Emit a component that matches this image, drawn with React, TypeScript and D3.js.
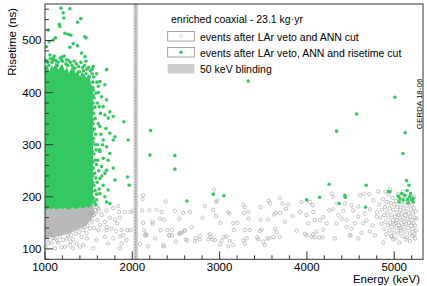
import React, { useRef, useEffect } from 'react';
import * as d3 from 'd3';

// axis ticks
const xMajor = [1000, 2000, 3000, 4000, 5000];
const yMajor = [100, 200, 300, 400, 500];

// dense core of the low energy cluster (energy keV, risetime ns)
const greenCoreE = [1000, 1025, 1050, 1075, 1100, 1125, 1150, 1175, 1200, 1225, 1250, 1275, 1300, 1325, 1350, 1375, 1400, 1425, 1450, 1475, 1500, 1525, 1540, 1550];
const greenCoreTop = [445, 455, 440, 452, 448, 458, 444, 450, 455, 442, 449, 437, 446, 452, 436, 444, 430, 441, 434, 428, 436, 420, 410, 400];
const greenCoreBottom = [177, 175, 178, 176, 179, 175, 177, 178, 176, 179, 177, 175, 178, 180, 176, 178, 181, 177, 179, 182, 178, 184, 188, 192];

const grayCoreE = [1000, 1100, 1200, 1300, 1400, 1500, 1560];
const grayCoreLow = [122, 123, 126, 131, 138, 150, 166];
const grayCoreHigh = [182, 182, 182, 182, 182, 184, 186];

// green: events after LAr veto, ANN and risetime cut
const greenFringe = [
  [1010, 462], [1030, 458], [1060, 465], [1080, 458], [1105, 470], [1125, 462], [1150, 458], [1175, 466],
  [1200, 460], [1220, 470], [1240, 455], [1265, 462], [1290, 458], [1310, 452], [1335, 460], [1360, 455],
  [1385, 450], [1410, 458], [1430, 448], [1455, 452], [1480, 445], [1500, 448], [1520, 442], [1540, 436],
  [1548, 420], [1555, 405], [1562, 390], [1550, 380], [1570, 372], [1558, 360], [1575, 350], [1552, 340],
  [1565, 330], [1580, 320], [1556, 312], [1572, 300], [1585, 290], [1560, 282], [1575, 270], [1590, 262],
  [1555, 255], [1568, 245], [1582, 236], [1598, 228], [1560, 222], [1575, 212], [1590, 205], [1552, 198],
  [1566, 190], [1600, 300], [1610, 340], [1605, 270], [1615, 250], [1620, 215], [1598, 380], [1612, 400],
  [1635, 360], [1640, 320], [1625, 290], [1650, 240], [1660, 300], [1595, 420], [1545, 195], [1530, 188],
  [1515, 185], [1500, 186], [1580, 185], [1560, 430], [1540, 445], [1545, 410], [1548, 395], [1542, 368],
  [1546, 348], [1543, 325], [1549, 305], [1541, 288], [1547, 266], [1544, 240], [1549, 228], [1542, 210],
  [1535, 200], [1522, 192], [1490, 190], [1470, 186], [1015, 448], [1045, 452], [1090, 462], [1140, 452],
  [1190, 462], [1260, 452], [1345, 447], [1395, 440], [1440, 442], [1470, 436], [1510, 430],
];

const greenOutliers = [
  [1182, 562], [1285, 561], [1209, 553], [1216, 543], [1411, 542], [1163, 531], [1171, 527], [1373, 535],
  [1037, 520], [1228, 514], [1266, 512], [1297, 510], [1457, 507], [1469, 505], [1121, 505], [1094, 501],
  [1048, 498], [1018, 488], [1323, 494], [1285, 487], [1373, 490], [1419, 476], [1056, 472], [1094, 466],
  [1190, 468], [1247, 463], [1457, 469], [1469, 460], [1133, 460], [1552, 450], [1705, 444], [1591, 436],
  [1629, 421], [1610, 412], [1686, 415], [1583, 399], [1648, 392], [1705, 386], [1621, 373], [1667, 373],
  [1743, 363], [1781, 354], [1904, 344], [1686, 357], [1724, 351], [1629, 335], [1698, 331], [1743, 322],
  [1801, 315], [1781, 309], [1953, 309], [1667, 309], [1705, 296], [1629, 287], [1743, 283], [1667, 274],
  [1724, 270], [1648, 258], [1705, 251], [1781, 255], [1686, 245], [1629, 235], [1801, 232], [1946, 238],
  [1965, 222], [1667, 222], [1724, 213], [1629, 206], [1686, 200], [1591, 194], [1705, 190], [1743, 187],
];

const greenHigh = [
  [3328, 422], [2210, 327], [2202, 280], [2488, 279], [2488, 253], [2625, 192], [2927, 205], [3049, 202],
  [5008, 391], [4569, 359], [4340, 326], [5126, 323], [5100, 283], [4255, 224], [4679, 222], [3997, 194],
  [4146, 199], [4370, 187], [4435, 203], [4439, 199], [4672, 180], [4936, 210], [4950, 210], [5142, 231],
  [5168, 222], [5149, 212], [5046, 201], [5065, 197], [5085, 206], [5103, 194], [5057, 190], [5180, 200],
  [5199, 194], [5218, 190], [5160, 188], [5122, 203], [5188, 206], [5218, 197], [5154, 195],
];

// gray: events after LAr veto and ANN cut
const grayLow = [
  [1610, 178], [1705, 174], [1782, 178], [1839, 182], [1850, 171], [1915, 171], [1980, 171], [1648, 165],
  [1743, 160], [1801, 156], [1858, 160], [1686, 152], [1629, 146], [1705, 142], [1762, 139], [1827, 149],
  [1610, 136], [1705, 136], [1812, 134], [1877, 136], [1942, 136], [1980, 136], [1896, 126], [1858, 124],
  [1781, 120], [1686, 123], [1591, 117], [1552, 101], [1400, 104], [1285, 107], [1190, 103], [1113, 101],
  [1037, 110], [1877, 110], [1724, 110], [1934, 117], [1858, 101], [1018, 123], [1056, 130], [1113, 120],
  [1152, 112], [1209, 117], [1266, 124], [1323, 118], [1362, 110], [1419, 123], [1476, 130], [1514, 139],
  [1457, 142], [1533, 152], [1560, 165], [1514, 168], [1572, 174], [1005, 104], [1228, 104], [1323, 101],
  [1438, 107], [1075, 112], [1171, 123], [1293, 114], [1030, 118], [1090, 121], [1140, 116], [1250, 120],
  [1300, 126], [1350, 129], [1390, 132], [1440, 136], [1490, 145], [1540, 158], [1580, 168], [1595, 180],
  [1620, 172], [1600, 155], [1560, 140], [1480, 120],
];

const grayMid = [
  [2125, 203], [2117, 195], [2010, 173], [2113, 174], [2194, 174], [2278, 175], [2335, 171], [2381, 191],
  [2316, 158], [2362, 156], [2125, 150], [2232, 152], [2232, 148], [2132, 136], [2155, 129], [2144, 126],
  [2259, 120], [2323, 136], [2400, 136], [2457, 136], [2488, 173], [2583, 169], [2537, 158], [2660, 171],
  [2805, 160], [2832, 182], [2938, 214], [2958, 190], [2973, 193], [2927, 175], [2958, 163], [3011, 150],
  [3099, 171], [3110, 168], [3156, 149], [3202, 150], [3271, 185], [3290, 180], [3278, 169], [3328, 171],
  [3332, 158], [3469, 180], [3561, 192], [3576, 187], [3641, 169], [3622, 166], [3557, 156], [3469, 156],
  [3347, 136], [3290, 136], [3164, 136], [3080, 124], [3049, 123], [2889, 128], [2896, 123], [2874, 118],
  [2919, 118], [2774, 125], [2728, 120], [2717, 115], [2614, 118], [2629, 116], [2499, 114], [2537, 129],
  [2564, 131], [2595, 134], [2679, 142], [2602, 136], [2457, 126], [2423, 126], [2362, 105], [2182, 105],
  [2087, 109], [3481, 137], [3462, 134], [3546, 120], [3569, 120], [3634, 139], [3653, 132], [3519, 107],
  [3271, 116], [3290, 110], [3118, 115], [3023, 116], [3003, 108], [3099, 105], [3443, 118], [3615, 123],
  [2163, 126], [2354, 107], [2423, 126], [2545, 130], [2774, 118], [2946, 117], [3156, 107], [3309, 120],
  [3431, 122], [3500, 114], [3691, 123], [4072, 128], [4320, 120], [4492, 126], [4779, 126], [4874, 112],
  [4970, 124],
];

const grayHigh = [
  [3691, 197], [3722, 187], [3786, 185], [3760, 177], [3691, 169], [3836, 163], [3748, 152], [3882, 135],
  [3920, 171], [3939, 190], [4035, 190], [4065, 184], [3997, 165], [4073, 171], [4016, 149], [4092, 155],
  [3978, 129], [3997, 126], [4054, 123], [4092, 122], [4142, 122], [4180, 122], [4111, 133], [4188, 137],
  [4226, 149], [4283, 206], [4302, 200], [4340, 187], [4302, 176], [4359, 165], [4417, 173], [4397, 158],
  [4455, 155], [4340, 149], [4455, 142], [4512, 139], [4588, 120], [4500, 126], [4626, 131], [4436, 187],
  [4512, 184], [4531, 174], [4588, 181], [4607, 203], [4653, 206], [4714, 205], [4760, 193], [4722, 176],
  [4664, 168], [4588, 162], [4684, 155], [4752, 145], [4798, 162], [4817, 210], [4722, 133], [4645, 149],
  [4550, 149], [4256, 174], [4188, 161], [4149, 155],
];

const grayAlpha = [
  [4805, 170], [4830, 185], [4840, 160], [4855, 148], [4860, 175], [4870, 195], [4880, 138], [4885, 165],
  [4895, 180], [4900, 152], [4910, 128], [4915, 190], [4920, 170], [4925, 145], [4935, 160], [4940, 205],
  [4945, 135], [4950, 178], [4955, 150], [4960, 188], [4965, 125], [4970, 165], [4975, 142], [4980, 198],
  [4985, 155], [4990, 175], [4995, 132], [5000, 185], [5005, 148], [5010, 162], [5015, 120], [5020, 192],
  [5025, 140], [5030, 170], [5035, 155], [5040, 180], [5045, 130], [5050, 165], [5055, 145], [5060, 195],
  [5065, 158], [5070, 175], [5075, 135], [5080, 150], [5085, 185], [5090, 168], [5095, 125], [5100, 160],
  [5105, 142], [5110, 178], [5115, 152], [5120, 190], [5125, 133], [5130, 165], [5135, 148], [5140, 172],
  [5145, 122], [5150, 158], [5155, 183], [5160, 140], [5165, 168], [5170, 150], [5175, 195], [5180, 130],
  [5185, 162], [5190, 176], [5195, 145], [5200, 155], [5205, 185], [5210, 138], [5215, 168], [5220, 150],
  [5225, 178], [5230, 128], [5235, 160], [5240, 145], [5245, 172], [5250, 135], [5255, 158], [5045, 205],
  [5100, 210], [5150, 200], [5200, 198], [4990, 118], [5130, 118], [5180, 115], [5060, 112], [5240, 120],
  [4900, 210], [4950, 215], [5230, 200], [5110, 202], [5020, 150], [5070, 140], [5160, 190], [5210, 125],
];

const legendTitle = 'enriched coaxial - 23.1 kg\u00b7yr';
const legendLabels = [
  'events after LAr veto and ANN cut',
  'events after LAr veto, ANN and risetime cut',
  '50 keV blinding',
];
const blinding = [2014, 2064];

const GREEN = '#35c860';
const GRAY = '#9c9c9c';
const FONT = 'Liberation Sans, Arial, Helvetica, sans-serif';

const App = () => {
  const svgRef = useRef(null);

  useEffect(() => {
    const W = 427, H = 286;
    const left = 45, right = 423, top = 4, bottom = 259.3;

    const svg = d3.select(svgRef.current).attr('width', W).attr('height', H);
    svg.selectAll('*').remove();

    const x = d3.scaleLinear().domain([1000, 5330]).range([left, right]);
    const y = d3.scaleLinear().domain([80, 570]).range([bottom, top]);

    svg.append('rect').attr('width', W).attr('height', H).attr('fill', '#fff');

    const plot = svg.append('g');

    // gray core + circles
    const grayCore = grayCoreE.map((e, i) => ({ e, lo: grayCoreLow[i], hi: grayCoreHigh[i] }));
    plot.append('path')
      .datum(grayCore)
      .attr('fill', '#bababa')
      .attr('d', d3.area().x(d => x(d.e)).y0(d => y(d.lo)).y1(d => y(d.hi)).curve(d3.curveMonotoneX));

    const grayAll = [...grayLow, ...grayMid, ...grayHigh, ...grayAlpha];
    plot.append('g').selectAll('circle')
      .data(grayAll)
      .join('circle')
      .attr('cx', d => x(d[0]))
      .attr('cy', d => y(d[1]))
      .attr('r', 1.7)
      .attr('fill', 'none')
      .attr('stroke', GRAY)
      .attr('stroke-width', 0.6);

    // blinding window
    plot.append('rect')
      .attr('x', x(blinding[0]))
      .attr('width', x(blinding[1]) - x(blinding[0]))
      .attr('y', top)
      .attr('height', bottom - top)
      .attr('fill', '#cdcdcd');
    plot.append('line')
      .attr('x1', x((blinding[0] + blinding[1]) / 2)).attr('x2', x((blinding[0] + blinding[1]) / 2))
      .attr('y1', top).attr('y2', bottom)
      .attr('stroke', '#a2a2a2').attr('stroke-width', 1.4).attr('stroke-dasharray', '1.5,1.5');

    // green core + dots
    const greenCore = greenCoreE.map((e, i) => ({ e, lo: greenCoreBottom[i], hi: greenCoreTop[i] }));
    plot.append('path')
      .datum(greenCore)
      .attr('fill', GREEN)
      .attr('d', d3.area().x(d => x(d.e)).y0(d => y(d.lo)).y1(d => y(d.hi)));

    const greenAll = [...greenFringe, ...greenOutliers, ...greenHigh];
    plot.append('g').selectAll('circle')
      .data(greenAll)
      .join('circle')
      .attr('cx', d => x(d[0]))
      .attr('cy', d => y(d[1]))
      .attr('r', 1.8)
      .attr('fill', GREEN);

    // frame
    svg.append('rect')
      .attr('x', left).attr('y', top)
      .attr('width', right - left).attr('height', bottom - top)
      .attr('fill', 'none').attr('stroke', '#333').attr('stroke-width', 1);

    // x ticks
    const xt = svg.append('g').attr('stroke', '#333').attr('stroke-width', 1);
    d3.range(1000, 5330, 200).forEach(v => {
      const major = xMajor.includes(v);
      xt.append('line').attr('x1', x(v)).attr('x2', x(v))
        .attr('y1', bottom).attr('y2', bottom - (major ? 8 : 4));
    });
    svg.append('g').selectAll('text')
      .data(xMajor)
      .join('text')
      .attr('x', d => x(d))
      .attr('y', 271)
      .attr('text-anchor', 'middle')
      .attr('font-family', FONT)
      .attr('font-size', 11.5)
      .text(d => d);
    svg.append('text')
      .attr('x', right - 3).attr('y', 283)
      .attr('text-anchor', 'end')
      .attr('font-family', FONT).attr('font-size', 11.5)
      .text('Energy (keV)');

    // y ticks
    const yt = svg.append('g').attr('stroke', '#333').attr('stroke-width', 1);
    d3.range(80, 571, 20).forEach(v => {
      const major = yMajor.includes(v);
      yt.append('line').attr('x1', left).attr('x2', left + (major ? 8 : 4))
        .attr('y1', y(v)).attr('y2', y(v));
    });
    svg.append('g').selectAll('text')
      .data(yMajor)
      .join('text')
      .attr('x', 41.5)
      .attr('y', d => y(d) + 4)
      .attr('text-anchor', 'end')
      .attr('font-family', FONT)
      .attr('font-size', 11.5)
      .text(d => d);
    svg.append('text')
      .attr('transform', 'translate(16,8) rotate(-90)')
      .attr('text-anchor', 'end')
      .attr('font-family', FONT).attr('font-size', 11.5)
      .text('Risetime (ns)');

    // GERDA label
    svg.append('text')
      .attr('transform', 'translate(421.5,104) rotate(-90)')
      .attr('text-anchor', 'middle')
      .attr('font-family', FONT).attr('font-size', 8)
      .text('GERDA 18-06');

    // legend
    const lg = svg.append('g').attr('font-family', FONT).attr('font-size', 10.5);
    lg.append('text').attr('x', 171).attr('y', 23).text(legendTitle);
    const rowY = [31.5, 47.5, 64];
    legendLabels.forEach((label, i) => {
      const by = rowY[i];
      lg.append('rect')
        .attr('x', 167.7).attr('y', by).attr('width', 26.6).attr('height', 9.5)
        .attr('fill', i === 2 ? '#cdcdcd' : '#fff')
        .attr('stroke', i === 2 ? 'none' : '#8a8a8a').attr('stroke-width', 0.8);
      if (i === 0) {
        lg.append('circle').attr('cx', 181).attr('cy', by + 4.75).attr('r', 1.5)
          .attr('fill', 'none').attr('stroke', '#bbb').attr('stroke-width', 0.6);
      }
      if (i === 1) {
        lg.append('circle').attr('cx', 181).attr('cy', by + 4.75).attr('r', 1.8).attr('fill', GREEN);
      }
      lg.append('text').attr('x', 200).attr('y', by + 9).text(label);
    });
  }, []);

  return <svg ref={svgRef} style={{ position: 'absolute', left: 0, top: 0 }} />;
};

export default App;
